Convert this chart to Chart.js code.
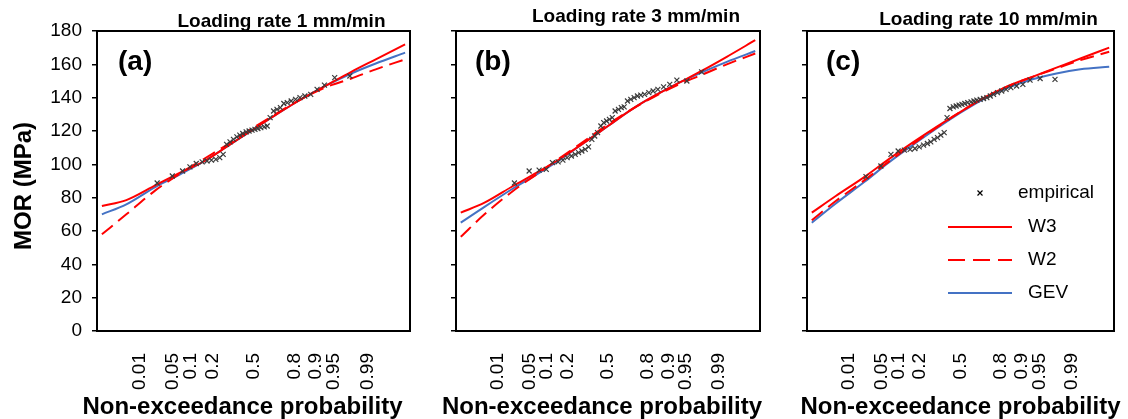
<!DOCTYPE html>
<html>
<head>
<meta charset="utf-8">
<script src="https://cdn.jsdelivr.net/npm/chart.js@4.4.0/dist/chart.umd.min.js"></script>
<style>
  body { margin: 0; background: #fff; width: 1128px; height: 419px; overflow: hidden; position: relative; }
  canvas { position: absolute; top: 0; }
</style>
</head>
<body>
<canvas id="panelA" width="430" height="419" style="left:0px"></canvas>
<canvas id="panelB" width="350" height="419" style="left:430px"></canvas>
<canvas id="panelC" width="348" height="419" style="left:780px"></canvas>
<script>
// x axis is a normal probability scale: ticks are non-exceedance probabilities
const probTicks = [0.01, 0.05, 0.1, 0.2, 0.5, 0.8, 0.9, 0.95, 0.99];
const probLabels = ['0.01', '0.05', '0.1', '0.2', '0.5', '0.8', '0.9', '0.95', '0.99'];
const yTicks = [0, 20, 40, 60, 80, 100, 120, 140, 160, 180];

const zCurve = [-3.1, -2.6, -2.0, -1.5, -1.0, -0.5, 0, 0.5, 1.0, 1.5, 2.0, 2.5, 3.1];

// (a) loading rate 1 mm/min
const w3A  = [75, 78.5, 87.5, 95, 102, 111.5, 121, 130.5, 139.5, 147.5, 155.5, 163, 172];
const w2A  = [58, 70, 84.5, 94.5, 103.5, 112.5, 122, 131, 139.5, 146.5, 151.5, 157, 163];
const gevA = [70, 76, 86.5, 94, 102, 111.5, 121, 130.5, 139.5, 147.5, 154.5, 160.5, 167];

// (b) loading rate 3 mm/min
const w3B  = [71, 77, 87, 95, 103.5, 113, 123, 133, 141.5, 149, 156.5, 164.5, 174.5];
const w2B  = [56.5, 70, 84, 94, 104, 114, 124, 133, 141, 148, 154, 160, 166.5];
const gevB = [65, 74.5, 85.5, 94, 103, 113, 123, 133, 141.5, 149, 155.5, 161.5, 168];

// (c) loading rate 10 mm/min
const w3C  = [71, 81, 92.5, 103, 113, 122.5, 131.5, 140, 147, 152.5, 158, 163.5, 170];
const w2C  = [66.5, 78, 90.5, 101.5, 112, 122, 131.5, 140, 147, 152.5, 157.5, 162.5, 167.5];
const gevC = [65, 76.5, 89.5, 101, 111.5, 121.5, 131, 139.5, 146, 151, 154.5, 157, 158.5];

// empirical points: normal score of plotting position, MOR (MPa)
const empZ = [-1.97, -1.66, -1.45, -1.30, -1.17, -1.05, -0.95, -0.86, -0.77, -0.69,
              -0.62, -0.55, -0.48, -0.41, -0.34, -0.28, -0.22, -0.15, -0.09, -0.03,
               0.03, 0.09, 0.15, 0.22, 0.28, 0.34, 0.41, 0.48, 0.55, 0.62,
               0.69, 0.77, 0.86, 0.95, 1.05, 1.17, 1.30, 1.45, 1.66, 1.97];
const empA = [88.8, 93, 96, 98.5, 100.5, 101.5, 102, 102.5, 103, 104,
              106, 112, 113.5, 115, 116.5, 117.5, 118.5, 119.5, 120, 120.5,
              121, 121.5, 122, 122.5, 123, 128, 132, 133, 134, 136.5,
              137, 138, 139, 140, 141, 142, 145, 147.5, 152, 153];
const empB = [88.8, 96, 96.5, 97, 101, 101.5, 102.5, 104, 105, 106,
              107, 108, 109, 110.5, 115, 117, 119, 123, 125, 126,
              127, 128, 132, 133, 134, 134.5, 138, 139, 140, 141,
              141.5, 142, 143, 144, 145, 146.5, 148, 150.5, 150, 155.5];
const empC = [92.6, 99, 106, 108, 108.5, 109, 109.5, 110.5, 111.5, 112.5,
              113.5, 115, 116, 117.5, 119, 128, 133.5, 134.5, 135, 135.5,
              136, 136.5, 137, 137.5, 138, 138.5, 139, 139.5, 140, 141,
              142, 143, 144, 145, 146, 147, 148, 150.5, 151.5, 151];

const FONT = '"Liberation Sans", Arial, sans-serif';
const RED = '#ff0000';
const BLUE = '#4472c4';
const MARK = '#3a3a3a';

// inverse standard normal cdf (Acklam)
function probit(p) {
  const a = [-39.69683028665376, 220.9460984245205, -275.9285104469687, 138.3577518672690, -30.66479806614716, 2.506628277459239];
  const b = [-54.47609879822406, 161.5858368580409, -155.6989798598866, 66.80131188771972, -13.28068155288572];
  const c = [-0.007784894002430293, -0.3223964580411365, -2.400758277161838, -2.549732539343734, 4.374664141464968, 2.938163982698783];
  const d = [0.007784695709041462, 0.3224671290700398, 2.445134137142996, 3.754408661907416];
  const pl = 0.02425;
  let q, r;
  if (p < pl) {
    q = Math.sqrt(-2 * Math.log(p));
    return (((((c[0] * q + c[1]) * q + c[2]) * q + c[3]) * q + c[4]) * q + c[5]) / ((((d[0] * q + d[1]) * q + d[2]) * q + d[3]) * q + 1);
  }
  if (p > 1 - pl) {
    q = Math.sqrt(-2 * Math.log(1 - p));
    return -(((((c[0] * q + c[1]) * q + c[2]) * q + c[3]) * q + c[4]) * q + c[5]) / ((((d[0] * q + d[1]) * q + d[2]) * q + d[3]) * q + 1);
  }
  q = p - 0.5;
  r = q * q;
  return (((((a[0] * r + a[1]) * r + a[2]) * r + a[3]) * r + a[4]) * r + a[5]) * q / (((((b[0] * r + b[1]) * r + b[2]) * r + b[3]) * r + b[4]) * r + 1);
}

const toPts = (xs, ys) => xs.map((x, i) => ({ x: x, y: ys[i] }));

// box, panel letter, titles and (for c) the legend
const panelDeco = {
  id: 'panelDeco',
  afterDraw(chart, args, opts) {
    const { ctx, chartArea: { left, top, right, bottom } } = chart;
    const cx = (left + right) / 2;
    ctx.save();
    ctx.strokeStyle = '#000';
    ctx.lineWidth = 2;
    ctx.strokeRect(left, top, right - left, bottom - top);

    ctx.fillStyle = '#000';
    ctx.font = 'bold 28px ' + FONT;
    ctx.textAlign = 'left';
    ctx.textBaseline = 'middle';
    ctx.fillText(opts.letter, left + opts.letterDx, top + 31);

    ctx.font = 'bold 19px ' + FONT;
    ctx.textAlign = 'center';
    ctx.textBaseline = 'alphabetic';
    ctx.fillText(opts.title, cx + 28, opts.titleY);

    // x axis title
    ctx.font = 'bold 24px ' + FONT;
    ctx.fillText('Non-exceedance probability', cx + opts.xTitleDx, 414);

    // y axis title, only on the first panel
    if (opts.yTitle) {
      ctx.save();
      ctx.translate(31, (top + bottom) / 2 + 5);
      ctx.rotate(-Math.PI / 2);
      ctx.fillText(opts.yTitle, 0, 0);
      ctx.restore();
    }

    if (opts.legend) {
      const lx = left + 141, tx = left + 221;
      ctx.font = '19px ' + FONT;
      ctx.textAlign = 'left';
      ctx.textBaseline = 'middle';
      // empirical marker
      const mx = left + 173, my = top + 162;
      ctx.strokeStyle = '#000';
      ctx.lineWidth = 1.2;
      ctx.beginPath();
      ctx.moveTo(mx - 2.5, my - 2.5); ctx.lineTo(mx + 2.5, my + 2.5);
      ctx.moveTo(mx - 2.5, my + 2.5); ctx.lineTo(mx + 2.5, my - 2.5);
      ctx.stroke();
      ctx.fillText('empirical', left + 211, my);

      const rows = [
        { label: 'W3', color: RED, dash: [], y: top + 196 },
        { label: 'W2', color: RED, dash: [17, 8], y: top + 229 },
        { label: 'GEV', color: BLUE, dash: [], y: top + 262 }
      ];
      rows.forEach(r => {
        ctx.strokeStyle = r.color;
        ctx.lineWidth = 2;
        ctx.setLineDash(r.dash);
        ctx.beginPath();
        ctx.moveTo(lx, r.y);
        ctx.lineTo(lx + 64, r.y);
        ctx.stroke();
        ctx.setLineDash([]);
        ctx.fillText(r.label, tx, r.y);
      });
    }
    ctx.restore();
  }
};

function makePanel(id, emp, w3, w2, gev, deco, yWidth, padRight, showY) {
  return new Chart(document.getElementById(id), {
    type: 'scatter',
    data: {
      datasets: [
        {
          label: 'empirical',
          data: toPts(empZ, emp),
          pointStyle: 'crossRot',
          pointRadius: 3.5,
          borderColor: MARK,
          borderWidth: 1.2,
          backgroundColor: MARK
        },
        {
          label: 'W3',
          data: toPts(zCurve, w3),
          showLine: true,
          pointRadius: 0,
          borderColor: RED,
          borderWidth: 2,
          cubicInterpolationMode: 'monotone'
        },
        {
          label: 'W2',
          data: toPts(zCurve, w2),
          showLine: true,
          pointRadius: 0,
          borderColor: RED,
          borderWidth: 2,
          borderDash: [14, 7],
          cubicInterpolationMode: 'monotone'
        },
        {
          label: 'GEV',
          data: toPts(zCurve, gev),
          showLine: true,
          pointRadius: 0,
          borderColor: BLUE,
          borderWidth: 2,
          cubicInterpolationMode: 'monotone'
        }
      ]
    },
    options: {
      responsive: false,
      animation: false,
      devicePixelRatio: 1,
      layout: { padding: { top: 31, right: padRight, left: 0, bottom: 0 } },
      scales: {
        x: {
          type: 'linear',
          min: -3.2,
          max: 3.2,
          afterBuildTicks: s => { s.ticks = probTicks.map(p => ({ value: probit(p) })); },
          afterFit: s => { s.height = 88; },
          ticks: {
            autoSkip: false,
            minRotation: 90,
            maxRotation: 90,
            padding: 22,
            color: '#000',
            font: { family: FONT, size: 19 },
            callback: (v, i) => probLabels[i]
          },
          grid: { display: false, drawTicks: false },
          border: { display: true, color: '#000', width: 2 }
        },
        y: {
          min: 0,
          max: 180,
          afterBuildTicks: s => {
            const t = [];
            yTicks.forEach((v, i) => { t.push({ value: v }); if (i < yTicks.length - 1) t.push({ value: v + 10 }); });
            s.ticks = t;
          },
          afterFit: s => { s.width = yWidth; },
          ticks: {
            padding: 10,
            color: '#000',
            font: { family: FONT, size: 19 },
            callback: v => (showY && yTicks.includes(v)) ? String(v) : ''
          },
          grid: { drawOnChartArea: false, drawTicks: true, tickLength: 5, color: '#000', lineWidth: 1.5 },
          border: { display: true, color: '#000', width: 2 }
        }
      },
      plugins: {
        legend: { display: false },
        tooltip: { enabled: false },
        panelDeco: deco
      }
    },
    plugins: [panelDeco]
  });
}

makePanel('panelA', empA, w3A, w2A, gevA,
  { letter: '(a)', letterDx: 21, title: 'Loading rate 1 mm/min', titleY: 27, xTitleDx: -11, yTitle: 'MOR (MPa)' }, 97, 20, true);
makePanel('panelB', empB, w3B, w2B, gevB,
  { letter: '(b)', letterDx: 19, title: 'Loading rate 3 mm/min', titleY: 22, xTitleDx: -6 }, 26, 20, false);
makePanel('panelC', empC, w3C, w2C, gevC,
  { letter: '(c)', letterDx: 19, title: 'Loading rate 10 mm/min', titleY: 25, xTitleDx: 0, legend: true }, 27, 14, false);
</script>
</body>
</html>
